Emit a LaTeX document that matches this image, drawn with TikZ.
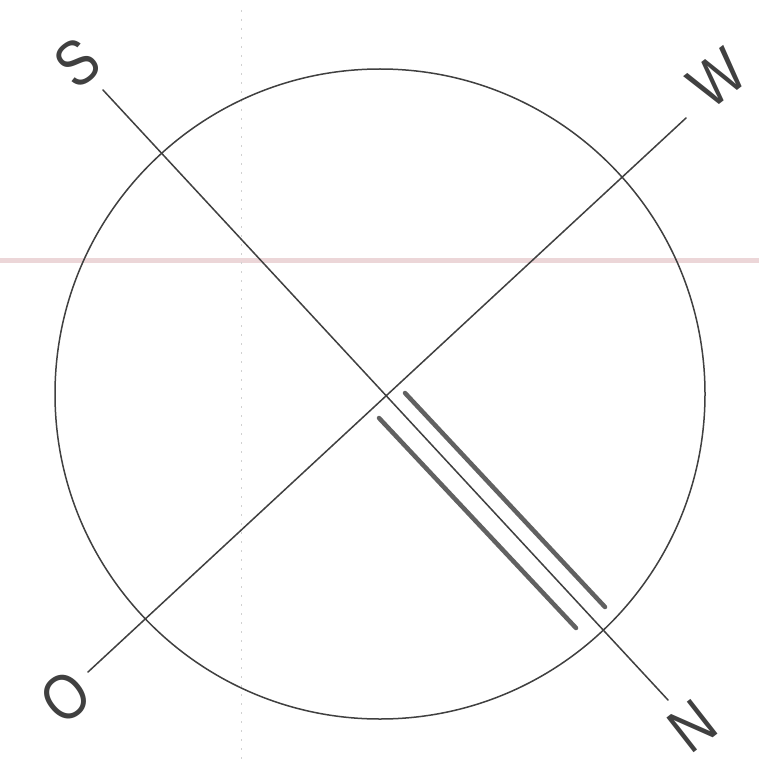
\documentclass[tikz,border=0pt]{standalone}
\usepackage{fontspec}
\setmainfont{Liberation Sans}
\definecolor{scanpink}{RGB}{236,214,216}
\begin{document}
\begin{tikzpicture}[x=1pt,y=-1pt,
  ink/.style={draw=black!75,line width=1.5pt,line cap=round},
  thickline/.style={draw=black!62,line width=4.5pt,line cap=round},
  lbl/.style={text=black!75,font=\fontsize{64}{64}\selectfont,rotate=38,xscale=0.85,inner sep=0pt}]
\useasboundingbox (0,0) rectangle (759,762);
\fill[white] (0,0) rectangle (759,762);
% faint scan artefacts
\draw[draw=scanpink,line width=5pt] (0,260) -- (759,260);
\draw[draw=black!18,line width=0.8pt,dash pattern=on 2pt off 7pt] (241,10) -- (241,762);
% circle
\coordinate (c) at (380,394);
\draw[ink] (c) circle (325);
% axes
\coordinate (s) at (103,90);
\coordinate (n) at (668,700);
\coordinate (o) at (88,672);
\coordinate (w) at (686,118);
\draw[ink] (s) -- (n);
\draw[ink] (o) -- (w);
% thick parallel strokes
\coordinate (a1) at (405,393);
\coordinate (a2) at (605,607);
\coordinate (b1) at (379,418);
\coordinate (b2) at (576,628);
\draw[thickline] (a1) -- (a2);
\draw[thickline] (b1) -- (b2);
% labels
\node[lbl] (ls) at (77,63) {S};
\node[lbl] (lw) at (717,78) {W};
\node[lbl] (lo) at (66,697) {O};
\node[lbl] (ln) at (692,726) {N};
\end{tikzpicture}
\end{document}
